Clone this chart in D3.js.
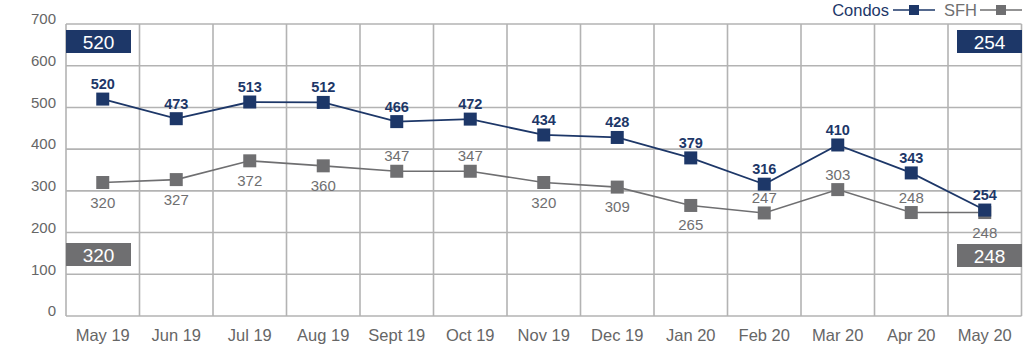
<!DOCTYPE html>
<html>
<head>
<meta charset="utf-8">
<script src="https://cdn.jsdelivr.net/npm/d3@7"></script>
<style>
  body { margin: 0; background: #fff; }
  svg { font-family: "Liberation Sans", Arial, sans-serif; display: block; }
</style>
</head>
<body>
<div id="chart"></div>
<script>
// chart data
const months = ['May 19', 'Jun 19', 'Jul 19', 'Aug 19', 'Sept 19', 'Oct 19', 'Nov 19',
    'Dec 19', 'Jan 20', 'Feb 20', 'Mar 20', 'Apr 20', 'May 20'];
const condos = [520, 473, 513, 512, 466, 472, 434, 428, 379, 316, 410, 343, 254];
const sfh = [320, 327, 372, 360, 347, 347, 320, 309, 265, 247, 303, 248, 248];
// where the SFH label sits: 'below' or 'above' the marker
const sfhLabelPos = ['below', 'below', 'below', 'below', 'above', 'above', 'below',
    'below', 'below', 'above', 'above', 'above', 'below'];
const yTicks = [0, 100, 200, 300, 400, 500, 600, 700];

const width = 1024, height = 351;
const navy = '#1d3768', grey = '#6f6f71', gridColor = '#b3b3b3', textColor = '#666';

const svg = d3.select('#chart').append('svg')
    .attr('width', width)
    .attr('height', height);

const x = d3.scaleBand()
    .domain(months)
    .range([66, 1021.5])
    .padding(0);

const y = d3.scaleLinear()
    .domain([0, 700])
    .range([316, 24]);

// horizontal grid
svg.append('g').selectAll('line')
    .data(yTicks)
    .join('line')
    .attr('x1', x.range()[0])
    .attr('x2', x.range()[1])
    .attr('y1', d => y(d))
    .attr('y2', d => y(d))
    .attr('stroke', gridColor)
    .attr('stroke-width', 1.6);

// vertical grid (band edges)
const edges = months.map(m => x(m)).concat([x.range()[1]]);
svg.append('g').selectAll('line')
    .data(edges)
    .join('line')
    .attr('x1', d => d)
    .attr('x2', d => d)
    .attr('y1', y(700))
    .attr('y2', y(0))
    .attr('stroke', gridColor)
    .attr('stroke-width', 1.6);

// y axis labels
svg.append('g').selectAll('text')
    .data(yTicks)
    .join('text')
    .attr('x', 56)
    .attr('y', d => y(d) - 5)
    .attr('dy', '0.35em')
    .attr('text-anchor', 'end')
    .attr('font-size', 15)
    .attr('fill', textColor)
    .text(d => d);

// x axis labels
svg.append('g').selectAll('text')
    .data(months)
    .join('text')
    .attr('x', d => x(d) + x.bandwidth() / 2)
    .attr('y', 341)
    .attr('text-anchor', 'middle')
    .attr('font-size', 16.5)
    .attr('fill', textColor)
    .text(d => d);

const cx = (d, i) => x(months[i]) + x.bandwidth() / 2;

const line = d3.line()
    .x((d, i) => cx(d, i))
    .y(d => y(d));

// SFH series
svg.append('path')
    .datum(sfh)
    .attr('d', line)
    .attr('fill', 'none')
    .attr('stroke', grey)
    .attr('stroke-width', 1.6);

svg.append('g').selectAll('rect')
    .data(sfh)
    .join('rect')
    .attr('x', (d, i) => cx(d, i) - 6.5)
    .attr('y', d => y(d) - 6.5)
    .attr('width', 13)
    .attr('height', 13)
    .attr('fill', grey);

svg.append('g').selectAll('text')
    .data(sfh)
    .join('text')
    .attr('x', (d, i) => cx(d, i))
    .attr('y', (d, i) => sfhLabelPos[i] === 'below' ? y(d) + 25 : y(d) - 10)
    .attr('text-anchor', 'middle')
    .attr('font-size', 15)
    .attr('fill', grey)
    .text(d => d);

// Condos series
svg.append('path')
    .datum(condos)
    .attr('d', line)
    .attr('fill', 'none')
    .attr('stroke', navy)
    .attr('stroke-width', 1.8);

svg.append('g').selectAll('rect')
    .data(condos)
    .join('rect')
    .attr('x', (d, i) => cx(d, i) - 6.5)
    .attr('y', d => y(d) - 6.5)
    .attr('width', 13)
    .attr('height', 13)
    .attr('fill', navy);

svg.append('g').selectAll('text')
    .data(condos)
    .join('text')
    .attr('x', (d, i) => cx(d, i))
    .attr('y', d => y(d) - 10)
    .attr('text-anchor', 'middle')
    .attr('font-size', 14.5)
    .attr('font-weight', 'bold')
    .attr('fill', navy)
    .text(d => d);

// first / last value boxes
const boxes = [
    { value: condos[0], color: navy, x: 66, y: 30 },
    { value: condos[condos.length - 1], color: navy, x: 957, y: 30 },
    { value: sfh[0], color: grey, x: 66, y: 243 },
    { value: sfh[sfh.length - 1], color: grey, x: 957, y: 244 }
];
const boxG = svg.append('g').selectAll('g')
    .data(boxes)
    .join('g')
    .attr('transform', d => `translate(${d.x},${d.y})`);
boxG.append('rect')
    .attr('width', 65)
    .attr('height', 23)
    .attr('fill', d => d.color);
boxG.append('text')
    .attr('x', 32.5)
    .attr('y', 12)
    .attr('dy', '0.36em')
    .attr('text-anchor', 'middle')
    .attr('font-size', 19)
    .attr('fill', '#fff')
    .text(d => d.value);

// legend
const legendItems = [
    { name: 'Condos', color: navy, textEnd: 889, lineStart: 893 },
    { name: 'SFH', color: grey, textEnd: 977, lineStart: 980 }
];
const legend = svg.append('g').selectAll('g')
    .data(legendItems)
    .join('g');
legend.append('text')
    .attr('x', d => d.textEnd)
    .attr('y', 16)
    .attr('text-anchor', 'end')
    .attr('font-size', 16.5)
    .attr('fill', d => d.color)
    .text(d => d.name);
legend.append('line')
    .attr('x1', d => d.lineStart)
    .attr('x2', d => d.lineStart + 42)
    .attr('y1', 10)
    .attr('y2', 10)
    .attr('stroke', d => d.color)
    .attr('stroke-width', 1.6);
legend.append('rect')
    .attr('x', d => d.lineStart + 16)
    .attr('y', 5)
    .attr('width', 10)
    .attr('height', 10)
    .attr('fill', d => d.color);
</script>
</body>
</html>
